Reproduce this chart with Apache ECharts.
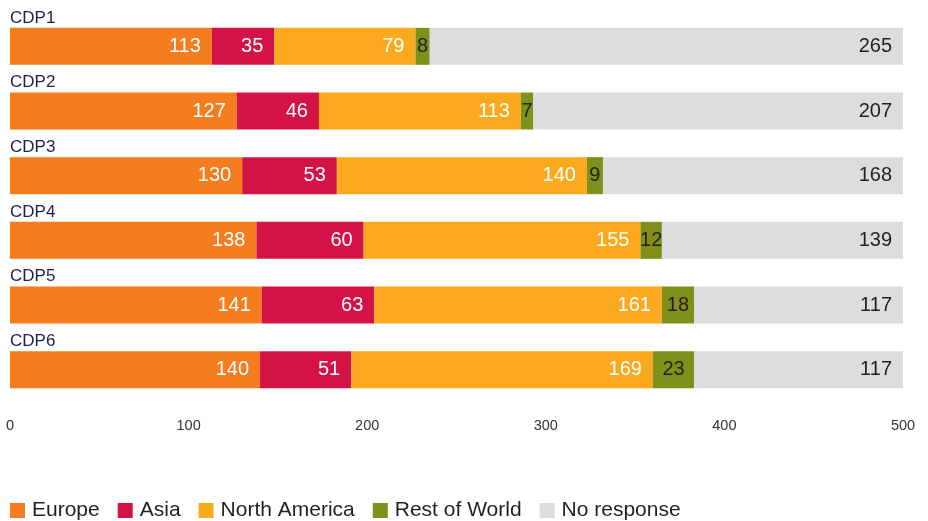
<!DOCTYPE html>
<html>
<head>
<meta charset="utf-8">
<script src="https://cdn.jsdelivr.net/npm/echarts@6/dist/echarts.min.js"></script>
<style>html,body{margin:0;padding:0;background:#fff;}#c{width:928px;height:521px;}</style>
</head>
<body>
<div id="c"></div>
<script>
var categories = ['CDP1', 'CDP2', 'CDP3', 'CDP4', 'CDP5', 'CDP6'];
var seriesNames = ['Europe', 'Asia', 'North America', 'Rest of World', 'No response'];
var europe = [113, 127, 130, 138, 141, 140];
var asia = [35, 46, 53, 60, 63, 51];
var northAmerica = [79, 113, 140, 155, 161, 169];
var restOfWorld = [8, 7, 9, 12, 18, 23];
var noResponse = [265, 207, 168, 139, 117, 117];
var xTicks = [0, 100, 200, 300, 400, 500];

var colors = ['#F47D20', '#D31245', '#FBAA1F', '#7F901B', '#DCDDDF'];
var labelColors = ['#ffffff', '#ffffff', '#ffffff', '#231F20', '#231F20'];
var values = [europe, asia, northAmerica, restOfWorld, noResponse];
var FONT = '"Liberation Sans", Arial, Helvetica, sans-serif';

var series = seriesNames.map(function (name, i) {
  return {
    name: name,
    type: 'bar',
    stack: 'total',
    barWidth: 37,
    clip: true,
    itemStyle: { color: colors[i] },
    emphasis: { disabled: true },
    label: {
      show: true,
      position: i === 3 ? 'inside' : 'insideRight',
      distance: 11,
      color: labelColors[i],
      fontSize: 20,
      fontFamily: FONT
    },
    data: values[i]
  };
});

var chart = echarts.init(document.getElementById('c'), null, { renderer: 'canvas' });
chart.setOption({
  animation: false,
  backgroundColor: '#ffffff',
  color: colors,
  grid: { left: 10, right: 25, top: 14, height: 388, containLabel: false },
  xAxis: {
    type: 'value',
    min: xTicks[0],
    max: xTicks[xTicks.length - 1],
    interval: xTicks[1] - xTicks[0],
    axisLine: { show: false },
    axisTick: { show: false },
    splitLine: { show: false },
    axisLabel: { margin: 16, fontSize: 14.5, color: '#333333', fontFamily: FONT }
  },
  yAxis: {
    type: 'category',
    data: categories,
    inverse: true,
    axisLine: { show: false },
    axisTick: { show: false },
    splitLine: { show: false },
    axisLabel: {
      inside: true,
      margin: 0,
      align: 'left',
      verticalAlign: 'bottom',
      lineHeight: 17,
      padding: [0, 0, 20, 0],
      fontSize: 17,
      color: '#1B1F4B',
      fontFamily: FONT
    }
  },
  legend: {
    show: true,
    left: 10,
    top: 500,
    padding: 0,
    itemGap: 18,
    itemWidth: 15,
    itemHeight: 15,
    icon: 'rect',
    data: seriesNames,
    textStyle: { fontSize: 21, color: '#231F20', fontFamily: FONT, padding: [0, 0, 0, 2] }
  },
  series: series
});
</script>
</body>
</html>
